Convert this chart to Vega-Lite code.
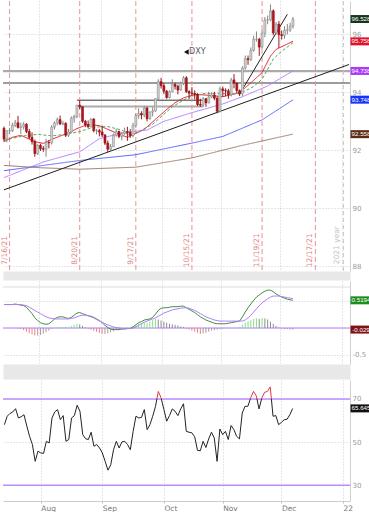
{
"$schema":"https://vega.github.io/schema/vega-lite/v6.json",
"padding":0,
"spacing":0,
"config":{"view":{"stroke":null},"legend":{"disable":true},"axis":{"labelFont":"DejaVu Sans","labelFontSize":7,"labelColor":"#9a9a9a","ticks":false,"gridDash":[1,2],"gridColor":"#cccccc","domainColor":"#d0d0d0"}},
"datasets":{
"days":[
{"d":"2021-07-14","o":92.76,"h":92.82,"l":92.30,"c":92.39,"r":58.1,"m":0.44,"s":0.44,"hv":0},
{"d":"2021-07-15","o":92.39,"h":92.70,"l":92.28,"c":92.68,"r":62.0,"m":0.44,"s":0.44,"hv":0},
{"d":"2021-07-16","o":92.68,"h":92.78,"l":92.55,"c":92.68,"r":63.3,"m":0.44,"s":0.44,"hv":0},
{"d":"2021-07-19","o":92.68,"h":92.95,"l":92.63,"c":92.86,"r":64.0,"m":0.44,"s":0.44,"hv":0},
{"d":"2021-07-20","o":92.86,"h":93.05,"l":92.80,"c":92.95,"r":65.5,"m":0.45,"s":0.44,"hv":0},
{"d":"2021-07-21","o":92.95,"h":93.19,"l":92.75,"c":92.79,"r":61.2,"m":0.44,"s":0.44,"hv":-0.01},
{"d":"2021-07-22","o":92.79,"h":92.96,"l":92.57,"c":92.81,"r":61.8,"m":0.43,"s":0.44,"hv":-0.02},
{"d":"2021-07-23","o":92.81,"h":92.97,"l":92.72,"c":92.90,"r":62.7,"m":0.42,"s":0.43,"hv":-0.04},
{"d":"2021-07-26","o":92.90,"h":92.94,"l":92.59,"c":92.65,"r":57.5,"m":0.39,"s":0.42,"hv":-0.07},
{"d":"2021-07-27","o":92.65,"h":92.74,"l":92.39,"c":92.45,"r":52.7,"m":0.33,"s":0.39,"hv":-0.10},
{"d":"2021-07-28","o":92.45,"h":92.62,"l":92.20,"c":92.30,"r":48.9,"m":0.27,"s":0.36,"hv":-0.12},
{"d":"2021-07-29","o":92.30,"h":92.37,"l":91.78,"c":91.89,"r":41.1,"m":0.19,"s":0.33,"hv":-0.14},
{"d":"2021-07-30","o":91.89,"h":92.21,"l":91.84,"c":92.17,"r":45.8,"m":0.14,"s":0.30,"hv":-0.14},
{"d":"2021-08-02","o":92.17,"h":92.23,"l":91.98,"c":92.06,"r":45.0,"m":0.10,"s":0.27,"hv":-0.13},
{"d":"2021-08-03","o":92.06,"h":92.15,"l":91.95,"c":92.04,"r":44.8,"m":0.08,"s":0.24,"hv":-0.11},
{"d":"2021-08-04","o":92.04,"h":92.40,"l":91.78,"c":92.27,"r":50.4,"m":0.07,"s":0.21,"hv":-0.08},
{"d":"2021-08-05","o":92.27,"h":92.35,"l":92.07,"c":92.26,"r":49.6,"m":0.08,"s":0.19,"hv":-0.05},
{"d":"2021-08-06","o":92.26,"h":92.87,"l":92.20,"c":92.80,"r":61.2,"m":0.12,"s":0.18,"hv":-0.01},
{"d":"2021-08-09","o":92.80,"h":93.00,"l":92.72,"c":92.94,"r":64.0,"m":0.17,"s":0.17,"hv":0.01},
{"d":"2021-08-10","o":92.94,"h":93.13,"l":92.86,"c":93.06,"r":65.1,"m":0.20,"s":0.17,"hv":0.02},
{"d":"2021-08-11","o":93.06,"h":93.20,"l":92.87,"c":92.91,"r":60.4,"m":0.21,"s":0.17,"hv":0.02},
{"d":"2021-08-12","o":92.91,"h":93.02,"l":92.86,"c":92.93,"r":62.3,"m":0.21,"s":0.17,"hv":0.02},
{"d":"2021-08-13","o":92.93,"h":92.97,"l":92.46,"c":92.52,"r":50.4,"m":0.19,"s":0.17,"hv":0.01},
{"d":"2021-08-16","o":92.52,"h":92.74,"l":92.46,"c":92.63,"r":51.2,"m":0.18,"s":0.17,"hv":0.02},
{"d":"2021-08-17","o":92.63,"h":93.17,"l":92.59,"c":93.11,"r":61.2,"m":0.20,"s":0.18,"hv":0.04},
{"d":"2021-08-18","o":93.11,"h":93.23,"l":92.95,"c":93.17,"r":62.3,"m":0.24,"s":0.19,"hv":0.06},
{"d":"2021-08-19","o":93.17,"h":93.56,"l":93.11,"c":93.56,"r":67.1,"m":0.28,"s":0.21,"hv":0.08},
{"d":"2021-08-20","o":93.56,"h":93.73,"l":93.42,"c":93.50,"r":64.3,"m":0.29,"s":0.23,"hv":0.07},
{"d":"2021-08-23","o":93.50,"h":93.52,"l":92.95,"c":93.00,"r":53.5,"m":0.27,"s":0.24,"hv":0.04},
{"d":"2021-08-24","o":93.00,"h":93.05,"l":92.80,"c":92.88,"r":51.6,"m":0.25,"s":0.24,"hv":0.01},
{"d":"2021-08-25","o":92.88,"h":93.03,"l":92.78,"c":92.81,"r":51.2,"m":0.23,"s":0.23,"hv":-0.02},
{"d":"2021-08-26","o":92.81,"h":93.11,"l":92.80,"c":93.08,"r":54.6,"m":0.22,"s":0.21,"hv":-0.03},
{"d":"2021-08-27","o":93.08,"h":93.11,"l":92.62,"c":92.68,"r":48.1,"m":0.20,"s":0.19,"hv":-0.05},
{"d":"2021-08-30","o":92.68,"h":92.74,"l":92.55,"c":92.68,"r":48.9,"m":0.17,"s":0.16,"hv":-0.07},
{"d":"2021-08-31","o":92.68,"h":92.74,"l":92.48,"c":92.63,"r":47.3,"m":0.14,"s":0.13,"hv":-0.09},
{"d":"2021-09-01","o":92.63,"h":92.85,"l":92.46,"c":92.53,"r":45.0,"m":0.10,"s":0.11,"hv":-0.11},
{"d":"2021-09-02","o":92.53,"h":92.56,"l":92.18,"c":92.25,"r":41.1,"m":0.05,"s":0.08,"hv":-0.11},
{"d":"2021-09-03","o":92.25,"h":92.34,"l":91.94,"c":92.04,"r":37.0,"m":0.01,"s":0.06,"hv":-0.10},
{"d":"2021-09-06","o":92.04,"h":92.22,"l":92.00,"c":92.13,"r":39.5,"m":-0.02,"s":0.04,"hv":-0.08},
{"d":"2021-09-07","o":92.13,"h":92.59,"l":92.11,"c":92.52,"r":46.5,"m":-0.03,"s":0.02,"hv":-0.06},
{"d":"2021-09-08","o":92.52,"h":92.75,"l":92.47,"c":92.65,"r":50.4,"m":-0.03,"s":0.01,"hv":-0.04},
{"d":"2021-09-09","o":92.65,"h":92.68,"l":92.42,"c":92.48,"r":47.3,"m":-0.03,"s":0.00,"hv":-0.02},
{"d":"2021-09-10","o":92.48,"h":92.63,"l":92.35,"c":92.58,"r":50.1,"m":-0.02,"s":-0.01,"hv":-0.01},
{"d":"2021-09-13","o":92.58,"h":92.78,"l":92.54,"c":92.65,"r":50.4,"m":-0.02,"s":-0.01,"hv":0},
{"d":"2021-09-14","o":92.65,"h":92.81,"l":92.33,"c":92.62,"r":48.9,"m":-0.01,"s":-0.01,"hv":0.01},
{"d":"2021-09-15","o":92.62,"h":92.73,"l":92.43,"c":92.51,"r":46.5,"m":-0.01,"s":-0.01,"hv":0.02},
{"d":"2021-09-16","o":92.51,"h":92.95,"l":92.45,"c":92.86,"r":55.0,"m":0.02,"s":0.00,"hv":0.04},
{"d":"2021-09-17","o":92.86,"h":93.27,"l":92.78,"c":93.20,"r":62.0,"m":0.06,"s":0.02,"hv":0.06},
{"d":"2021-09-20","o":93.20,"h":93.45,"l":93.09,"c":93.27,"r":61.2,"m":0.10,"s":0.05,"hv":0.08},
{"d":"2021-09-21","o":93.27,"h":93.35,"l":93.07,"c":93.22,"r":61.5,"m":0.12,"s":0.08,"hv":0.09},
{"d":"2021-09-22","o":93.22,"h":93.53,"l":93.14,"c":93.46,"r":65.1,"m":0.15,"s":0.11,"hv":0.10},
{"d":"2021-09-23","o":93.46,"h":93.50,"l":93.00,"c":93.09,"r":55.8,"m":0.16,"s":0.13,"hv":0.10},
{"d":"2021-09-24","o":93.09,"h":93.34,"l":93.06,"c":93.32,"r":58.1,"m":0.17,"s":0.15,"hv":0.12},
{"d":"2021-09-27","o":93.32,"h":93.48,"l":93.17,"c":93.36,"r":62.0,"m":0.20,"s":0.17,"hv":0.15},
{"d":"2021-09-28","o":93.36,"h":93.80,"l":93.33,"c":93.78,"r":66.6,"m":0.26,"s":0.19,"hv":0.17},
{"d":"2021-09-29","o":93.78,"h":94.45,"l":93.73,"c":94.37,"r":73.5,"m":0.33,"s":0.22,"hv":0.16},
{"d":"2021-09-30","o":94.37,"h":94.50,"l":94.13,"c":94.23,"r":70.5,"m":0.37,"s":0.25,"hv":0.14},
{"d":"2021-10-01","o":94.23,"h":94.32,"l":93.94,"c":94.04,"r":65.1,"m":0.38,"s":0.28,"hv":0.12},
{"d":"2021-10-04","o":94.04,"h":94.08,"l":93.78,"c":93.82,"r":59.7,"m":0.38,"s":0.30,"hv":0.10},
{"d":"2021-10-05","o":93.82,"h":94.07,"l":93.79,"c":94.02,"r":62.3,"m":0.39,"s":0.32,"hv":0.08},
{"d":"2021-10-06","o":94.02,"h":94.45,"l":94.00,"c":94.27,"r":65.4,"m":0.40,"s":0.34,"hv":0.07},
{"d":"2021-10-07","o":94.27,"h":94.33,"l":94.10,"c":94.21,"r":64.3,"m":0.40,"s":0.35,"hv":0.06},
{"d":"2021-10-08","o":94.21,"h":94.27,"l":93.93,"c":94.08,"r":62.3,"m":0.40,"s":0.36,"hv":0.05},
{"d":"2021-10-11","o":94.08,"h":94.37,"l":94.05,"c":94.31,"r":65.4,"m":0.41,"s":0.37,"hv":0.03},
{"d":"2021-10-12","o":94.31,"h":94.56,"l":94.25,"c":94.50,"r":67.8,"m":0.41,"s":0.38,"hv":0.02},
{"d":"2021-10-13","o":94.50,"h":94.56,"l":93.98,"c":94.03,"r":55.0,"m":0.38,"s":0.38,"hv":-0.01},
{"d":"2021-10-14","o":94.03,"h":94.07,"l":93.77,"c":93.97,"r":54.6,"m":0.35,"s":0.37,"hv":-0.03},
{"d":"2021-10-15","o":93.97,"h":94.18,"l":93.86,"c":93.96,"r":54.3,"m":0.32,"s":0.35,"hv":-0.05},
{"d":"2021-10-18","o":93.96,"h":94.07,"l":93.76,"c":93.94,"r":52.5,"m":0.29,"s":0.33,"hv":-0.07},
{"d":"2021-10-19","o":93.94,"h":93.97,"l":93.53,"c":93.58,"r":46.2,"m":0.25,"s":0.30,"hv":-0.09},
{"d":"2021-10-20","o":93.58,"h":93.78,"l":93.50,"c":93.56,"r":46.0,"m":0.21,"s":0.27,"hv":-0.11},
{"d":"2021-10-21","o":93.56,"h":93.84,"l":93.50,"c":93.78,"r":50.4,"m":0.18,"s":0.24,"hv":-0.10},
{"d":"2021-10-22","o":93.78,"h":93.80,"l":93.50,"c":93.64,"r":47.5,"m":0.15,"s":0.21,"hv":-0.09},
{"d":"2021-10-25","o":93.64,"h":94.02,"l":93.62,"c":93.84,"r":51.5,"m":0.13,"s":0.19,"hv":-0.07},
{"d":"2021-10-26","o":93.84,"h":94.00,"l":93.80,"c":93.91,"r":54.6,"m":0.11,"s":0.17,"hv":-0.05},
{"d":"2021-10-27","o":93.91,"h":94.02,"l":93.73,"c":93.80,"r":51.9,"m":0.09,"s":0.15,"hv":-0.04},
{"d":"2021-10-28","o":93.80,"h":93.85,"l":93.28,"c":93.35,"r":41.1,"m":0.08,"s":0.14,"hv":-0.03},
{"d":"2021-10-29","o":93.35,"h":94.20,"l":93.31,"c":94.12,"r":56.1,"m":0.08,"s":0.13,"hv":-0.02},
{"d":"2021-11-01","o":94.12,"h":94.20,"l":93.85,"c":94.06,"r":53.5,"m":0.08,"s":0.13,"hv":-0.01},
{"d":"2021-11-02","o":94.06,"h":94.14,"l":93.87,"c":94.05,"r":55.0,"m":0.08,"s":0.13,"hv":0},
{"d":"2021-11-03","o":94.05,"h":94.12,"l":93.78,"c":93.92,"r":51.2,"m":0.09,"s":0.13,"hv":0.01},
{"d":"2021-11-04","o":93.92,"h":94.50,"l":93.86,"c":94.43,"r":57.7,"m":0.10,"s":0.13,"hv":0},
{"d":"2021-11-05","o":94.43,"h":94.63,"l":94.14,"c":94.32,"r":55.8,"m":0.11,"s":0.13,"hv":0},
{"d":"2021-11-08","o":94.32,"h":94.34,"l":93.98,"c":94.06,"r":52.7,"m":0.12,"s":0.13,"hv":0.01},
{"d":"2021-11-09","o":94.06,"h":94.10,"l":93.87,"c":93.95,"r":51.5,"m":0.13,"s":0.13,"hv":0.02},
{"d":"2021-11-10","o":93.95,"h":94.90,"l":93.87,"c":94.84,"r":63.5,"m":0.21,"s":0.13,"hv":0.06},
{"d":"2021-11-11","o":94.84,"h":95.27,"l":94.78,"c":95.16,"r":66.6,"m":0.30,"s":0.15,"hv":0.10},
{"d":"2021-11-12","o":95.16,"h":95.27,"l":94.95,"c":95.13,"r":66.6,"m":0.38,"s":0.19,"hv":0.13},
{"d":"2021-11-15","o":95.13,"h":95.55,"l":95.08,"c":95.45,"r":70.5,"m":0.45,"s":0.24,"hv":0.15},
{"d":"2021-11-16","o":95.45,"h":95.95,"l":95.40,"c":95.83,"r":73.5,"m":0.52,"s":0.30,"hv":0.17},
{"d":"2021-11-17","o":95.83,"h":96.10,"l":95.75,"c":95.83,"r":71.5,"m":0.58,"s":0.36,"hv":0.18},
{"d":"2021-11-18","o":95.83,"h":95.88,"l":95.26,"c":95.56,"r":65.4,"m":0.62,"s":0.42,"hv":0.17},
{"d":"2021-11-19","o":95.56,"h":96.15,"l":95.50,"c":96.04,"r":70.5,"m":0.66,"s":0.47,"hv":0.19},
{"d":"2021-11-22","o":96.04,"h":96.60,"l":95.90,"c":96.50,"r":73.1,"m":0.69,"s":0.51,"hv":0.18},
{"d":"2021-11-23","o":96.50,"h":96.65,"l":96.35,"c":96.50,"r":73.5,"m":0.71,"s":0.55,"hv":0.16},
{"d":"2021-11-24","o":96.50,"h":97.03,"l":96.45,"c":96.81,"r":75.6,"m":0.71,"s":0.58,"hv":0.12},
{"d":"2021-11-26","o":96.81,"h":96.86,"l":95.97,"c":96.05,"r":62.0,"m":0.68,"s":0.60,"hv":0.08},
{"d":"2021-11-29","o":96.05,"h":96.42,"l":96.00,"c":96.35,"r":62.3,"m":0.64,"s":0.60,"hv":0.04},
{"d":"2021-11-30","o":96.35,"h":96.46,"l":95.53,"c":95.99,"r":58.1,"m":0.61,"s":0.60,"hv":0.01},
{"d":"2021-12-01","o":95.99,"h":96.13,"l":95.82,"c":95.96,"r":59.2,"m":0.58,"s":0.59,"hv":-0.01},
{"d":"2021-12-02","o":95.96,"h":96.28,"l":95.85,"c":96.14,"r":60.4,"m":0.56,"s":0.58,"hv":-0.02},
{"d":"2021-12-03","o":96.14,"h":96.36,"l":96.00,"c":96.15,"r":60.6,"m":0.54,"s":0.57,"hv":-0.02},
{"d":"2021-12-06","o":96.15,"h":96.40,"l":96.08,"c":96.28,"r":62.7,"m":0.53,"s":0.56,"hv":-0.03},
{"d":"2021-12-07","o":96.28,"h":96.60,"l":96.20,"c":96.53,"r":65.6,"m":0.52,"s":0.55,"hv":-0.03}
],
"ma":[
{"d":"2021-07-14","s":"red","v":92.30},{"d":"2021-07-19","s":"red","v":92.45},{"d":"2021-07-22","s":"red","v":92.52},{"d":"2021-07-29","s":"red","v":92.30},{"d":"2021-08-03","s":"red","v":92.24},{"d":"2021-08-06","s":"red","v":92.38},{"d":"2021-08-16","s":"red","v":92.60},{"d":"2021-08-19","s":"red","v":92.75},{"d":"2021-08-25","s":"red","v":92.90},{"d":"2021-08-31","s":"red","v":92.85},{"d":"2021-09-08","s":"red","v":92.60},{"d":"2021-09-14","s":"red","v":92.45},{"d":"2021-09-22","s":"red","v":92.72},{"d":"2021-09-28","s":"red","v":93.07},{"d":"2021-10-04","s":"red","v":93.41},{"d":"2021-10-07","s":"red","v":93.64},{"d":"2021-10-12","s":"red","v":93.81},{"d":"2021-10-18","s":"red","v":93.93},{"d":"2021-10-25","s":"red","v":93.90},{"d":"2021-11-01","s":"red","v":93.85},{"d":"2021-11-09","s":"red","v":93.99},{"d":"2021-11-15","s":"red","v":94.33},{"d":"2021-11-19","s":"red","v":94.68},{"d":"2021-11-24","s":"red","v":95.25},{"d":"2021-11-29","s":"red","v":95.48},{"d":"2021-12-07","s":"red","v":95.76},
{"d":"2021-07-14","s":"green","v":92.35},{"d":"2021-07-23","s":"green","v":92.50},{"d":"2021-07-30","s":"green","v":92.55},{"d":"2021-08-06","s":"green","v":92.50},{"d":"2021-08-13","s":"green","v":92.55},{"d":"2021-08-20","s":"green","v":92.65},{"d":"2021-08-27","s":"green","v":92.80},{"d":"2021-09-03","s":"green","v":92.82},{"d":"2021-09-10","s":"green","v":92.70},{"d":"2021-09-15","s":"green","v":92.50},{"d":"2021-09-27","s":"green","v":92.90},{"d":"2021-10-06","s":"green","v":93.50},{"d":"2021-10-14","s":"green","v":93.85},{"d":"2021-10-22","s":"green","v":93.97},{"d":"2021-11-01","s":"green","v":93.95},{"d":"2021-11-09","s":"green","v":93.95},{"d":"2021-11-16","s":"green","v":94.20},{"d":"2021-11-19","s":"green","v":94.45},{"d":"2021-11-26","s":"green","v":95.15},{"d":"2021-12-01","s":"green","v":95.42},{"d":"2021-12-07","s":"green","v":95.71},
{"d":"2021-07-14","s":"purple","v":91.06},{"d":"2021-08-03","s":"purple","v":91.60},{"d":"2021-08-20","s":"purple","v":91.95},{"d":"2021-08-31","s":"purple","v":92.40},{"d":"2021-09-10","s":"purple","v":92.60},{"d":"2021-09-23","s":"purple","v":92.70},{"d":"2021-10-01","s":"purple","v":93.00},{"d":"2021-10-15","s":"purple","v":93.30},{"d":"2021-11-01","s":"purple","v":93.60},{"d":"2021-11-10","s":"purple","v":93.85},{"d":"2021-11-23","s":"purple","v":94.22},{"d":"2021-12-07","s":"purple","v":94.74},
{"d":"2021-07-14","s":"blue","v":91.30},{"d":"2021-08-20","s":"blue","v":91.65},{"d":"2021-09-17","s":"blue","v":91.85},{"d":"2021-10-15","s":"blue","v":92.25},{"d":"2021-11-01","s":"blue","v":92.48},{"d":"2021-11-19","s":"blue","v":93.05},{"d":"2021-12-07","s":"blue","v":93.74},
{"d":"2021-07-14","s":"brown","v":91.48},{"d":"2021-08-02","s":"brown","v":91.40},{"d":"2021-08-20","s":"brown","v":91.35},{"d":"2021-09-17","s":"brown","v":91.42},{"d":"2021-10-15","s":"brown","v":91.74},{"d":"2021-11-09","s":"brown","v":92.15},{"d":"2021-12-07","s":"brown","v":92.56}
],
"trend":[
{"d":"2021-07-14","v":90.64,"g":"a"},{"d":"2022-01-05","v":94.96,"g":"a"},
{"d":"2021-11-09","v":93.94,"g":"b"},{"d":"2021-12-03","v":96.69,"g":"b"}
],
"seg":[{"d":"2021-08-19","d2":"2021-10-21","v":93.73}],
"segg":[{"d":"2021-08-20","d2":"2021-10-21","v":93.51}],
"ev":[{"d":"2021-07-16","t":"7/16/21"},{"d":"2021-08-20","t":"8/20/21"},{"d":"2021-09-17","t":"9/17/21"},{"d":"2021-10-15","t":"10/15/21"},{"d":"2021-11-19","t":"11/19/21"},{"d":"2021-12-17","t":"12/17/21"}],
"yr":[{"d":"2022-01-03","t":"2021 year"}],
"ann":[{"d":"2021-10-14","v":95.39,"t":"DXY"}],
"annsym":[{"d":"2021-10-13","v":95.39}],
"lbl1":[{"k":"close","v":96.528,"t":"96.528"},{"k":"red","v":95.758,"t":"95.758"},{"k":"purple","v":94.738,"t":"94.738"},{"k":"blue","v":93.748,"t":"93.748"},{"k":"brown","v":92.558,"t":"92.558"}],
"lbl2":[{"k":"macd","v":0.5194,"t":"0.5194"},{"k":"hist","v":-0.029,"t":"-0.029"}],
"lbl3":[{"k":"rsi","v":65.645,"t":"65.645"}]
},
"vconcat":[
{
"width":347,"height":270,
"resolve":{"scale":{"x":"independent","color":"independent"},"axis":{"x":"independent"}},
"layer":[
{"layer":[
{"data":{"values":[{"v":94.73}]},"mark":{"type":"rule","color":"#ababab","strokeWidth":2.2},"encoding":{"y":{"field":"v","type":"quantitative"}}},
{"data":{"values":[{"v":94.32}]},"mark":{"type":"rule","color":"#3a3a3a","strokeWidth":1.1},"encoding":{"y":{"field":"v","type":"quantitative"}}},
{"data":{"name":"segg"},"mark":{"type":"rule","color":"#ababab","strokeWidth":2},"encoding":{"x":{"field":"d","type":"ordinal","bandPosition":0.5},"x2":{"field":"d2"},"y":{"field":"v","type":"quantitative"}}},
{"data":{"name":"seg"},"mark":{"type":"rule","color":"#333333","strokeWidth":1},"encoding":{"x":{"field":"d","type":"ordinal","bandPosition":0.5},"x2":{"field":"d2"},"y":{"field":"v","type":"quantitative"}}},
{"data":{"name":"ev"},"mark":{"type":"rule","color":"#e79393","strokeDash":[5,3],"strokeWidth":1},"encoding":{"x":{"field":"d","type":"ordinal","bandPosition":0.5}}},
{"data":{"name":"ev"},"mark":{"type":"text","angle":270,"baseline":"bottom","align":"center","dy":-1,"fontSize":7.5,"font":"DejaVu Sans","color":"#e28484"},"encoding":{"x":{"field":"d","type":"ordinal","bandPosition":0.5},"y":{"datum":88.55,"type":"quantitative"},"text":{"field":"t"}}},
{"data":{"name":"yr"},"mark":{"type":"rule","color":"#c8c8c8","strokeDash":[4,3],"strokeWidth":1},"encoding":{"x":{"field":"d","type":"ordinal","bandPosition":0.5}}},
{"data":{"name":"yr"},"mark":{"type":"text","angle":270,"baseline":"bottom","align":"center","dy":-2,"fontSize":7.5,"font":"DejaVu Sans","color":"#c4c4c4"},"encoding":{"x":{"field":"d","type":"ordinal","bandPosition":0.5},"y":{"datum":88.73,"type":"quantitative"},"text":{"field":"t"}}},
{"data":{"name":"ma"},"mark":{"type":"line","strokeWidth":1},"encoding":{"x":{"field":"d","type":"ordinal","bandPosition":0.5},"y":{"field":"v","type":"quantitative"},"color":{"field":"s","type":"nominal","scale":{"domain":["red","green","purple","blue","brown"],"range":["#e5192c","#5aa55a","#b47cff","#5865ff","#9c7e70"]},"legend":null},"strokeDash":{"field":"s","type":"nominal","scale":{"domain":["red","green","purple","blue","brown"],"range":[[1,0],[3,2],[1,0],[1,0],[1,0]]},"legend":null}}},
{"data":{"name":"trend"},"mark":{"type":"line","color":"#1e1e1e","strokeWidth":1},"encoding":{"x":{"field":"d","type":"ordinal","bandPosition":0.5},"y":{"field":"v","type":"quantitative"},"detail":{"field":"g"}}},
{"data":{"name":"days"},"mark":{"type":"rule","strokeWidth":1},"encoding":{"x":{"field":"d","type":"ordinal","bandPosition":0.5},"y":{"field":"l","type":"quantitative"},"y2":{"field":"h"},"color":{"condition":{"test":"datum.c>=datum.o","value":"#858585"},"value":"#9e1418"}}},
{"data":{"name":"days"},"mark":{"type":"bar","strokeWidth":0.6},"encoding":{
"x":{"field":"d","type":"ordinal","scale":{"domain":["2021-07-14","2021-07-15","2021-07-16","2021-07-19","2021-07-20","2021-07-21","2021-07-22","2021-07-23","2021-07-26","2021-07-27","2021-07-28","2021-07-29","2021-07-30","2021-08-02","2021-08-03","2021-08-04","2021-08-05","2021-08-06","2021-08-09","2021-08-10","2021-08-11","2021-08-12","2021-08-13","2021-08-16","2021-08-17","2021-08-18","2021-08-19","2021-08-20","2021-08-23","2021-08-24","2021-08-25","2021-08-26","2021-08-27","2021-08-30","2021-08-31","2021-09-01","2021-09-02","2021-09-03","2021-09-06","2021-09-07","2021-09-08","2021-09-09","2021-09-10","2021-09-13","2021-09-14","2021-09-15","2021-09-16","2021-09-17","2021-09-20","2021-09-21","2021-09-22","2021-09-23","2021-09-24","2021-09-27","2021-09-28","2021-09-29","2021-09-30","2021-10-01","2021-10-04","2021-10-05","2021-10-06","2021-10-07","2021-10-08","2021-10-11","2021-10-12","2021-10-13","2021-10-14","2021-10-15","2021-10-18","2021-10-19","2021-10-20","2021-10-21","2021-10-22","2021-10-25","2021-10-26","2021-10-27","2021-10-28","2021-10-29","2021-11-01","2021-11-02","2021-11-03","2021-11-04","2021-11-05","2021-11-08","2021-11-09","2021-11-10","2021-11-11","2021-11-12","2021-11-15","2021-11-16","2021-11-17","2021-11-18","2021-11-19","2021-11-22","2021-11-23","2021-11-24","2021-11-26","2021-11-29","2021-11-30","2021-12-01","2021-12-02","2021-12-03","2021-12-06","2021-12-07","2021-12-08","2021-12-09","2021-12-10","2021-12-13","2021-12-14","2021-12-15","2021-12-16","2021-12-17","2021-12-20","2021-12-21","2021-12-22","2021-12-23","2021-12-27","2021-12-28","2021-12-29","2021-12-30","2021-12-31","2022-01-03","2022-01-04","2022-01-05"],"paddingInner":0.3,"paddingOuter":0},
"axis":{"values":["2021-08-02","2021-09-01","2021-10-01","2021-11-01","2021-12-01","2022-01-03"],"bandPosition":0,"labels":false,"ticks":true,"tickSize":4.5,"tickColor":"rgba(255,255,255,0)","grid":true,"domainWidth":9,"domainColor":"#e8e8e8","offset":4.5,"title":null}},
"y":{"field":"o","type":"quantitative","scale":{"domain":[87.84,97.15],"nice":false,"zero":false},"axis":{"orient":"right","values":[88,89,90,91,92,93,94,95,96,97],"grid":true,"labelPadding":2,"title":null}},
"y2":{"field":"c"},
"fill":{"condition":{"test":"datum.c>=datum.o","value":"#d6d6d6"},"value":"#b5161d"},
"stroke":{"condition":{"test":"datum.c>=datum.o","value":"#8a8a8a"},"value":"#8c1014"}}},
{"data":{"name":"annsym"},"mark":{"type":"point","shape":"triangle-left","filled":true,"opacity":1,"size":30,"color":"#111111"},"encoding":{"x":{"field":"d","type":"ordinal","bandPosition":0.5},"y":{"field":"v","type":"quantitative"}}},
{"data":{"name":"ann"},"mark":{"type":"text","align":"left","baseline":"middle","fontSize":8,"font":"DejaVu Sans","color":"#555a66"},"encoding":{"x":{"field":"d","type":"ordinal","bandPosition":0.5},"y":{"field":"v","type":"quantitative"},"text":{"field":"t"}}}
]},
{"data":{"name":"lbl1"},"layer":[
{"mark":{"type":"point","shape":"M-1,-0.38H1V0.38H-1Z","filled":true,"opacity":1,"size":441},"encoding":{"x":{"datum":1.0317,"type":"quantitative","scale":{"domain":[0,1]},"axis":null},"y":{"field":"v","type":"quantitative"},"color":{"field":"k","type":"nominal","scale":{"domain":["close","red","purple","blue","brown"],"range":["#17361c","#e0132b","#a93cf5","#1634f5","#5b2c14"]},"legend":null}}},
{"mark":{"type":"text","align":"center","baseline":"middle","fontSize":6.2,"font":"Liberation Sans","color":"#ffffff"},"encoding":{"x":{"datum":1.0317,"type":"quantitative","scale":{"domain":[0,1]},"axis":null},"y":{"field":"v","type":"quantitative"},"text":{"field":"t"}}}
]}
]
},
{
"width":347,"height":83,
"resolve":{"scale":{"x":"independent","color":"independent"},"axis":{"x":"independent"}},
"layer":[
{"layer":[
{"data":{"values":[{"v":0.77}]},"mark":{"type":"rule","color":"#dcdcdc","strokeWidth":1},"encoding":{"y":{"field":"v","type":"quantitative"}}},
{"data":{"values":[{"v":0}]},"mark":{"type":"rule","color":"#c6a9ff","strokeWidth":1.5},"encoding":{"y":{"field":"v","type":"quantitative"}}},
{"data":{"name":"days"},"transform":[{"window":[{"op":"lag","field":"hv","as":"ph"}],"sort":[{"field":"d","order":"ascending"}]}],"mark":{"type":"rule","strokeWidth":1},"encoding":{
"x":{"field":"d","type":"ordinal","bandPosition":0.5,"scale":{"domain":["2021-07-14","2021-07-15","2021-07-16","2021-07-19","2021-07-20","2021-07-21","2021-07-22","2021-07-23","2021-07-26","2021-07-27","2021-07-28","2021-07-29","2021-07-30","2021-08-02","2021-08-03","2021-08-04","2021-08-05","2021-08-06","2021-08-09","2021-08-10","2021-08-11","2021-08-12","2021-08-13","2021-08-16","2021-08-17","2021-08-18","2021-08-19","2021-08-20","2021-08-23","2021-08-24","2021-08-25","2021-08-26","2021-08-27","2021-08-30","2021-08-31","2021-09-01","2021-09-02","2021-09-03","2021-09-06","2021-09-07","2021-09-08","2021-09-09","2021-09-10","2021-09-13","2021-09-14","2021-09-15","2021-09-16","2021-09-17","2021-09-20","2021-09-21","2021-09-22","2021-09-23","2021-09-24","2021-09-27","2021-09-28","2021-09-29","2021-09-30","2021-10-01","2021-10-04","2021-10-05","2021-10-06","2021-10-07","2021-10-08","2021-10-11","2021-10-12","2021-10-13","2021-10-14","2021-10-15","2021-10-18","2021-10-19","2021-10-20","2021-10-21","2021-10-22","2021-10-25","2021-10-26","2021-10-27","2021-10-28","2021-10-29","2021-11-01","2021-11-02","2021-11-03","2021-11-04","2021-11-05","2021-11-08","2021-11-09","2021-11-10","2021-11-11","2021-11-12","2021-11-15","2021-11-16","2021-11-17","2021-11-18","2021-11-19","2021-11-22","2021-11-23","2021-11-24","2021-11-26","2021-11-29","2021-11-30","2021-12-01","2021-12-02","2021-12-03","2021-12-06","2021-12-07","2021-12-08","2021-12-09","2021-12-10","2021-12-13","2021-12-14","2021-12-15","2021-12-16","2021-12-17","2021-12-20","2021-12-21","2021-12-22","2021-12-23","2021-12-27","2021-12-28","2021-12-29","2021-12-30","2021-12-31","2022-01-03","2022-01-04","2022-01-05"],"paddingInner":0.3,"paddingOuter":0},
"axis":{"values":["2021-08-02","2021-09-01","2021-10-01","2021-11-01","2021-12-01","2022-01-03"],"bandPosition":0,"labels":false,"ticks":true,"tickSize":7.5,"tickColor":"rgba(255,255,255,0)","grid":true,"domainWidth":15,"domainColor":"#e8e8e8","offset":7.5,"title":null}},
"y":{"field":"hv","type":"quantitative","scale":{"domain":[-0.675,0.882],"nice":false,"zero":false},"axis":{"orient":"right","values":[-0.5,0,0.5],"labelExpr":"datum.value==-0.5?'-0.5':''","grid":true,"labelPadding":2,"title":null}},
"y2":{"datum":0},
"color":{"condition":[{"test":"datum.hv>=0 && datum.hv>=datum.ph","value":"#86e286"},{"test":"datum.hv>=0","value":"#8e8e8e"},{"test":"datum.hv<datum.ph","value":"#f08080"}],"value":"#a89a9a"}}},
{"data":{"name":"days"},"mark":{"type":"line","color":"#3f8f3f","strokeWidth":1},"encoding":{"x":{"field":"d","type":"ordinal","bandPosition":0.5},"y":{"field":"m","type":"quantitative"}}},
{"data":{"name":"days"},"mark":{"type":"line","color":"#b07cff","strokeWidth":1},"encoding":{"x":{"field":"d","type":"ordinal","bandPosition":0.5},"y":{"field":"s","type":"quantitative"}}}
]},
{"data":{"name":"lbl2"},"layer":[
{"mark":{"type":"point","shape":"M-1,-0.38H1V0.38H-1Z","filled":true,"opacity":1,"size":441},"encoding":{"x":{"datum":1.0317,"type":"quantitative","scale":{"domain":[0,1]},"axis":null},"y":{"field":"v","type":"quantitative"},"color":{"field":"k","type":"nominal","scale":{"domain":["macd","hist"],"range":["#1e8c1e","#7d1212"]},"legend":null}}},
{"mark":{"type":"text","align":"center","baseline":"middle","fontSize":6.2,"font":"Liberation Sans","color":"#ffffff"},"encoding":{"x":{"datum":1.0317,"type":"quantitative","scale":{"domain":[0,1]},"axis":null},"y":{"field":"v","type":"quantitative"},"text":{"field":"t"}}}
]}
]
},
{
"width":347,"height":121,
"resolve":{"scale":{"x":"independent","color":"independent"},"axis":{"x":"independent"}},
"layer":[
{"layer":[
{"data":{"values":[{"v":70},{"v":30}]},"mark":{"type":"rule","color":"#b98cff","strokeWidth":1.5},"encoding":{"y":{"field":"v","type":"quantitative"}}},
{"data":{"name":"days"},"mark":{"type":"line","strokeWidth":1,"stroke":{"gradient":"linear","x1":0,"y1":0,"x2":0,"y2":1,"stops":[{"offset":0,"color":"#e03a3a"},{"offset":0.1451,"color":"#e03a3a"},{"offset":0.1451,"color":"#222222"},{"offset":1,"color":"#222222"}]}},"encoding":{
"x":{"field":"d","type":"ordinal","bandPosition":0.5,"scale":{"domain":["2021-07-14","2021-07-15","2021-07-16","2021-07-19","2021-07-20","2021-07-21","2021-07-22","2021-07-23","2021-07-26","2021-07-27","2021-07-28","2021-07-29","2021-07-30","2021-08-02","2021-08-03","2021-08-04","2021-08-05","2021-08-06","2021-08-09","2021-08-10","2021-08-11","2021-08-12","2021-08-13","2021-08-16","2021-08-17","2021-08-18","2021-08-19","2021-08-20","2021-08-23","2021-08-24","2021-08-25","2021-08-26","2021-08-27","2021-08-30","2021-08-31","2021-09-01","2021-09-02","2021-09-03","2021-09-06","2021-09-07","2021-09-08","2021-09-09","2021-09-10","2021-09-13","2021-09-14","2021-09-15","2021-09-16","2021-09-17","2021-09-20","2021-09-21","2021-09-22","2021-09-23","2021-09-24","2021-09-27","2021-09-28","2021-09-29","2021-09-30","2021-10-01","2021-10-04","2021-10-05","2021-10-06","2021-10-07","2021-10-08","2021-10-11","2021-10-12","2021-10-13","2021-10-14","2021-10-15","2021-10-18","2021-10-19","2021-10-20","2021-10-21","2021-10-22","2021-10-25","2021-10-26","2021-10-27","2021-10-28","2021-10-29","2021-11-01","2021-11-02","2021-11-03","2021-11-04","2021-11-05","2021-11-08","2021-11-09","2021-11-10","2021-11-11","2021-11-12","2021-11-15","2021-11-16","2021-11-17","2021-11-18","2021-11-19","2021-11-22","2021-11-23","2021-11-24","2021-11-26","2021-11-29","2021-11-30","2021-12-01","2021-12-02","2021-12-03","2021-12-06","2021-12-07","2021-12-08","2021-12-09","2021-12-10","2021-12-13","2021-12-14","2021-12-15","2021-12-16","2021-12-17","2021-12-20","2021-12-21","2021-12-22","2021-12-23","2021-12-27","2021-12-28","2021-12-29","2021-12-30","2021-12-31","2022-01-03","2022-01-04","2022-01-05"],"paddingInner":0.3,"paddingOuter":0},
"axis":{"values":["2021-08-02","2021-09-01","2021-10-01","2021-11-01","2021-12-01","2022-01-03"],"bandPosition":0,"labels":true,"labelExpr":"datum.value=='2021-08-02'?'Aug':datum.value=='2021-09-01'?'Sep':datum.value=='2021-10-01'?'Oct':datum.value=='2021-11-01'?'Nov':datum.value=='2021-12-01'?'Dec':'22'","labelAlign":"left","labelAngle":0,"labelFontSize":7.5,"labelColor":"#777777","labelPadding":1,"ticks":true,"tickSize":2,"tickColor":"#bbbbbb","grid":true,"domainColor":"#cccccc","title":null}},
"y":{"field":"r","type":"quantitative","scale":{"domain":[22.73,78.8],"nice":false,"zero":false},"axis":{"orient":"right","values":[30,40,50,60,70],"grid":true,"labelPadding":2,"title":null}}}}
]},
{"data":{"name":"lbl3"},"layer":[
{"mark":{"type":"point","shape":"M-1,-0.38H1V0.38H-1Z","filled":true,"opacity":1,"size":441},"encoding":{"x":{"datum":1.0317,"type":"quantitative","scale":{"domain":[0,1]},"axis":null},"y":{"field":"v","type":"quantitative"},"color":{"field":"k","type":"nominal","scale":{"domain":["rsi"],"range":["#111111"]},"legend":null}}},
{"mark":{"type":"text","align":"center","baseline":"middle","fontSize":6.2,"font":"Liberation Sans","color":"#ffffff"},"encoding":{"x":{"datum":1.0317,"type":"quantitative","scale":{"domain":[0,1]},"axis":null},"y":{"field":"v","type":"quantitative"},"text":{"field":"t"}}}
]}
]
}
]
}
